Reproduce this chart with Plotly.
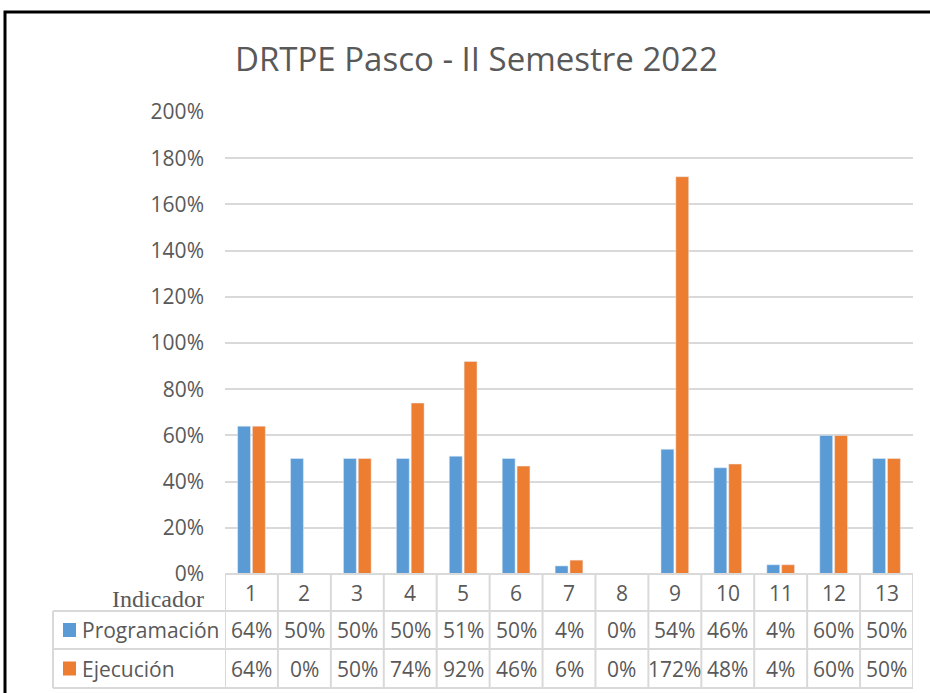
import plotly.graph_objects as go

categories = ["1", "2", "3", "4", "5", "6", "7", "8", "9", "10", "11", "12", "13"]
programacion = [0.64, 0.50, 0.50, 0.50, 0.51, 0.50, 0.035, 0.0, 0.54, 0.46, 0.04, 0.60, 0.50]
ejecucion = [0.64, 0.0, 0.50, 0.74, 0.92, 0.467, 0.06, 0.0, 1.72, 0.476, 0.04, 0.60, 0.50]
prog_labels = ["64%", "50%", "50%", "50%", "51%", "50%", "4%", "0%", "54%", "46%", "4%", "60%", "50%"]
ejec_labels = ["64%", "0%", "50%", "74%", "92%", "46%", "6%", "0%", "172%", "48%", "4%", "60%", "50%"]
series_names = ["Programación", "Ejecución"]
title_text = "DRTPE Pasco - II Semestre 2022"

BLUE = "#5B9BD5"
ORANGE = "#ED7D31"
TXT = "#595959"
GRID = "#D9D9D9"
FONT = "Open Sans"

W, H = 930, 693
L, R, T, B = 225, 913, 112, 574


def px(x):
    return (x - L) / (R - L)


def py(y):
    return (B - y) / (B - T)


fig = go.Figure()
fig.add_trace(go.Bar(x=categories, y=programacion, name=series_names[0],
                     marker=dict(color=BLUE)))
fig.add_trace(go.Bar(x=categories, y=ejecucion, name=series_names[1],
                     marker=dict(color=ORANGE)))

shapes = []
ann = []
n = len(categories)
row_y = [B, 611, 649, 688]

# horizontal table lines
shapes.append(dict(type="line", xref="paper", yref="paper", x0=0, x1=1,
                   y0=py(row_y[0]), y1=py(row_y[0]), line=dict(color=GRID, width=2)))
for yy in row_y[1:]:
    shapes.append(dict(type="line", xref="paper", yref="paper", x0=px(53), x1=1,
                       y0=py(yy), y1=py(yy), line=dict(color=GRID, width=2)))
# vertical lines
for i in range(n + 1):
    shapes.append(dict(type="line", xref="x", yref="paper", x0=i - 0.5, x1=i - 0.5,
                       y0=py(row_y[0]), y1=py(row_y[3]), line=dict(color=GRID, width=2)))
shapes.append(dict(type="line", xref="paper", yref="paper", x0=px(53), x1=px(53),
                   y0=py(row_y[1]), y1=py(row_y[3]), line=dict(color=GRID, width=2)))

# legend keys
for color, (ya, yb) in zip([BLUE, ORANGE], [(row_y[1], row_y[2]), (row_y[2], row_y[3])]):
    yc = (ya + yb) / 2
    shapes.append(dict(type="rect", xref="paper", yref="paper", x0=px(63), x1=px(76),
                       y0=py(yc + 7), y1=py(yc - 7), fillcolor=color, line=dict(width=0)))

# outer chart border
shapes.append(dict(type="rect", xref="paper", yref="paper", x0=px(5), x1=px(960),
                   y0=py(720), y1=py(12), line=dict(color="black", width=3),
                   fillcolor="rgba(0,0,0,0)", layer="above"))


def text_ann(x, xref, y, text, size=21, family=FONT, xanchor="center"):
    return dict(x=x, xref=xref, y=y, yref="paper", text=text, showarrow=False,
                xanchor=xanchor, yanchor="middle",
                font=dict(family=family, size=size, color=TXT))


# header numbers and values
for i, c in enumerate(categories):
    ann.append(text_ann(i, "x", py((row_y[0] + row_y[1]) / 2), c))
    ann.append(text_ann(i, "x", py((row_y[1] + row_y[2]) / 2), prog_labels[i]))
    ann.append(text_ann(i, "x", py((row_y[2] + row_y[3]) / 2), ejec_labels[i]))

for name, (ya, yb) in zip(series_names, [(row_y[1], row_y[2]), (row_y[2], row_y[3])]):
    ann.append(text_ann(px(80), "paper", py((ya + yb) / 2), name, xanchor="left"))

ann.append(text_ann(px(206), "paper", py(599), "Indicador", size=24,
                    family="Liberation Serif", xanchor="right"))

ann.append(text_ann(px(476), "paper", py(58), title_text, size=33))

fig.update_layout(
    width=W, height=H,
    margin=dict(l=L, r=W - R, t=T, b=H - B, pad=0),
    paper_bgcolor="white", plot_bgcolor="white",
    showlegend=False,
    barmode="group", bargap=0.44, bargroupgap=0.13,
    shapes=shapes, annotations=ann,
    xaxis=dict(type="category", range=[-0.5, n - 0.5], showticklabels=False,
               showgrid=False, zeroline=False, showline=False),
    yaxis=dict(range=[0, 2], dtick=0.2, tickformat=".0%", showgrid=True,
               gridcolor=GRID, gridwidth=2, zeroline=False, showline=False,
               ticklabelstandoff=20,
               tickfont=dict(family=FONT, size=21, color=TXT)),
)

fig.write_html("out.html", config={"displayModeBar": False},
               post_script="document.body.style.margin='0';")
